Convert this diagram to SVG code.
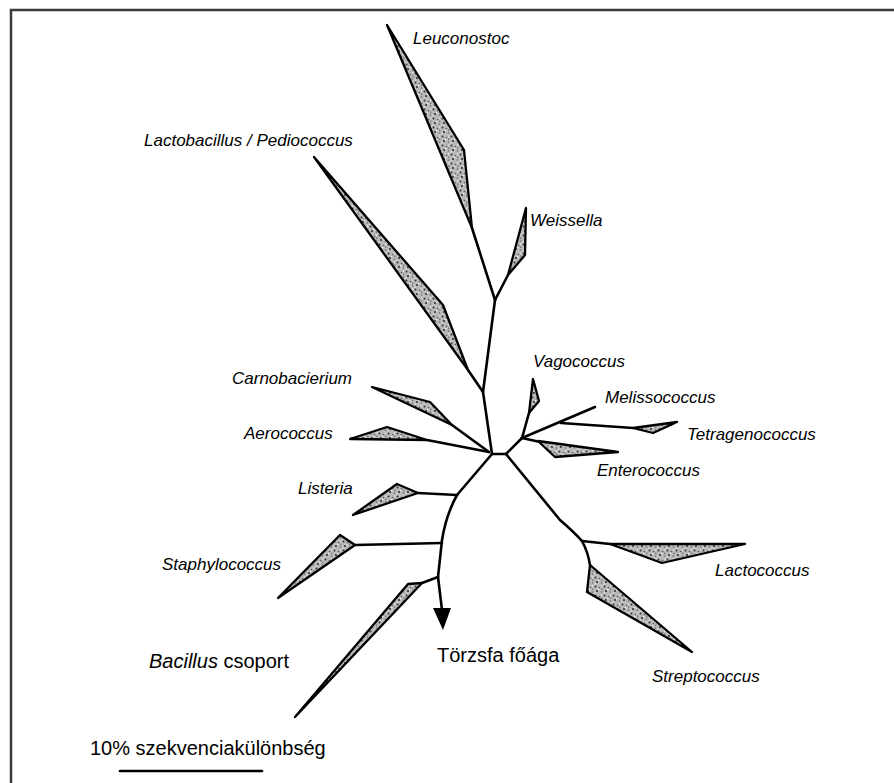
<svg xmlns="http://www.w3.org/2000/svg" width="894" height="783" viewBox="0 0 894 783">
<defs>
<pattern id="stip" width="9" height="9" patternUnits="userSpaceOnUse">
<rect width="9" height="9" fill="#b9b9b9"/>
<circle cx="1.5" cy="1.5" r="1" fill="#333"/>
<circle cx="5.5" cy="2.5" r="0.8" fill="#555"/>
<circle cx="3" cy="6" r="1" fill="#2a2a2a"/>
<circle cx="7.5" cy="7" r="0.8" fill="#666"/>
<circle cx="7.8" cy="4.2" r="0.6" fill="#444"/>
<rect x="4" y="4" width="1.3" height="1.3" fill="#f4f4f4"/>
<rect x="7" y="0.5" width="1.3" height="1.2" fill="#f0f0f0"/>
<rect x="0.5" y="7.5" width="1.3" height="1" fill="#efefef"/>
</pattern>
</defs>
<style>
.frame{fill:none;stroke:#3a3a3a;stroke-width:2.5}
.wedge{fill:url(#stip);stroke:#000;stroke-width:2.3;stroke-linejoin:round}
.br{fill:none;stroke:#000;stroke-width:2.6;stroke-linecap:round;stroke-linejoin:round}
.lbl{font-family:"Liberation Sans",Arial,sans-serif;font-style:italic;font-size:17px;fill:#000}
.big{font-family:"Liberation Sans",Arial,sans-serif;font-size:20px;fill:#000}
</style>
<rect width="894" height="783" fill="#fff"/>
<path class="frame" d="M11,783 L11,10 L894,10"/>

<g id="connectors">
<path class="br" d="M492,454 L483,392 L495,300"/>
<path class="br" d="M495,300 L472,228"/>
<path class="br" d="M495,300 L508,275"/>
<path class="br" d="M483,392 L468,370"/>
<path class="br" d="M489,452 L452,425"/>
<path class="br" d="M489,452 L427,440"/>
<path class="br" d="M492,454 L506,454"/>
<path class="br" d="M506,454 L560,520 Q574,532 582,541 Q588,552 590,565"/>
<path class="br" d="M582,541 L610,544"/>
<path class="br" d="M506,454 L522,438"/>
<path class="br" d="M522,438 L529,413"/>
<path class="br" d="M522,438 L595,407"/>
<path class="br" d="M561,423 L633,428"/>
<path class="br" d="M522,438 L540,442"/>
<path class="br" d="M492,454 L457,495"/>
<path class="br" d="M457,495 L418,493"/>
<path class="br" d="M457,495 Q446,515 442,540 L438,577"/>
<path class="br" d="M442,543 L355,545"/>
<path class="br" d="M438,577 L422,583"/>
<path class="br" d="M438,577 L442,610"/>
<polygon points="433,608 451,608 443,630" fill="#000"/>
</g>

<g id="leuconostoc"><polygon class="wedge" points="387,25 464,150 472,228"/><text class="lbl" x="413" y="44">Leuconostoc</text></g>
<g id="lactobacillus"><polygon class="wedge" points="314,157 443,305 468,370"/><text class="lbl" x="144" y="146">Lactobacillus / Pediococcus</text></g>
<g id="weissella"><polygon class="wedge" points="526,208 525,255 508,275"/><text class="lbl" x="530" y="226">Weissella</text></g>
<g id="carnobacterium"><polygon class="wedge" points="372,387 430,402 452,425"/><text class="lbl" x="232" y="384">Carnobacierium</text></g>
<g id="aerococcus"><polygon class="wedge" points="350,439 387,427 427,440"/><text class="lbl" x="244" y="439">Aerococcus</text></g>
<g id="vagococcus"><polygon class="wedge" points="533,379 539,401 529,413"/><text class="lbl" x="533" y="367">Vagococcus</text></g>
<g id="melissococcus"><text class="lbl" x="605" y="403">Melissococcus</text></g>
<g id="tetragenococcus"><polygon class="wedge" points="633,428 677,422 653,433"/><text class="lbl" x="687" y="440">Tetragenococcus</text></g>
<g id="enterococcus"><polygon class="wedge" points="538,441 618,452 555,457"/><text class="lbl" x="597" y="476">Enterococcus</text></g>
<g id="listeria"><polygon class="wedge" points="418,493 397,484 353,515"/><text class="lbl" x="298" y="494">Listeria</text></g>
<g id="staphylococcus"><polygon class="wedge" points="355,545 340,535 278,598"/><text class="lbl" x="162" y="570">Staphylococcus</text></g>
<g id="bacillus"><polygon class="wedge" points="422,583 408,584 295,717"/><text class="big" x="149" y="668"><tspan font-style="italic">Bacillus</tspan> csoport</text></g>
<g id="lactococcus"><polygon class="wedge" points="610,544 745,544 662,563"/><text class="lbl" x="715" y="576">Lactococcus</text></g>
<g id="streptococcus"><polygon class="wedge" points="590,565 692,652 587,592"/><text class="lbl" x="652" y="682">Streptococcus</text></g>
<g id="root"><text class="big" x="437" y="662">Törzsfa főága</text></g>
<g id="scale"><text class="big" x="90" y="755">10% szekvenciakülönbség</text><path class="br" d="M120,771 L262,771" stroke-linecap="butt"/></g>
</svg>
